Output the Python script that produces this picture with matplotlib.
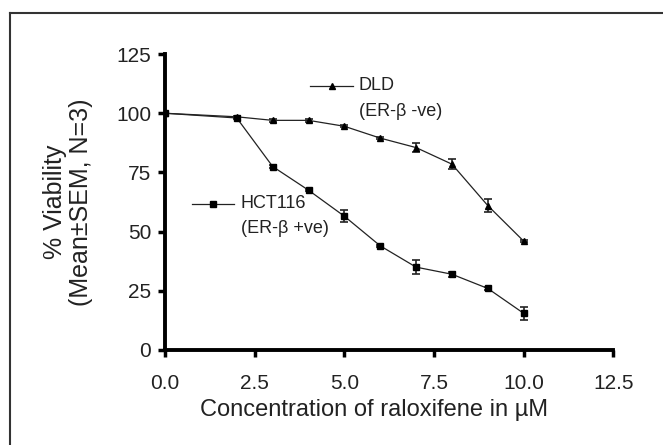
import matplotlib
matplotlib.use("Agg")
import matplotlib.pyplot as plt
from matplotlib.lines import Line2D

# data
conc = [0, 2, 3, 4, 5, 6, 7, 8, 9, 10]
dld_mean = [100, 98.5, 97, 97, 94.5, 89.5, 85.5, 78.5, 61, 46]
dld_sem = [0, 0.5, 0.5, 0.5, 0.5, 0.5, 2, 2, 2.8, 0.5]
hct_mean = [100, 98, 77.5, 67.5, 56.5, 44, 35, 32, 26, 15.5]
hct_sem = [0, 0.5, 0.8, 0.5, 2.5, 0.5, 3, 1, 0.5, 2.8]

xticks = [0.0, 2.5, 5.0, 7.5, 10.0, 12.5]
yticks = [0, 25, 50, 75, 100, 125]

plt.rcParams["font.family"] = ["Liberation Sans", "DejaVu Sans"]
ink = "#222222"

fig = plt.figure(figsize=(6.63, 4.45), dpi=100)
ax = fig.add_axes([0.249, 0.2135, 0.676, 0.665])

ax.errorbar(conc, dld_mean, yerr=dld_sem, color=ink, lw=0.9, marker="^",
            ms=5, mfc="black", mec="black", capsize=3, elinewidth=1.2, capthick=1.2)
ax.errorbar(conc, hct_mean, yerr=hct_sem, color=ink, lw=0.9, marker="s",
            ms=4.5, mfc="black", mec="black", capsize=3, elinewidth=1.2, capthick=1.2)

ax.set_xlim(0, 12.5)
ax.set_ylim(0, 125)
ax.set_xticks(xticks)
ax.set_xticklabels([f"{t:.1f}" for t in xticks])
ax.set_yticks(yticks)
ax.set_yticklabels([str(t) for t in yticks])
for s in ["top", "right"]:
    ax.spines[s].set_visible(False)
for s in ["left", "bottom"]:
    ax.spines[s].set_linewidth(2.8)
ax.tick_params(axis="both", direction="out", length=5, width=2.5, labelsize=15)
ax.tick_params(axis="y", pad=5)
ax.tick_params(axis="x", pad=12)
for lab in ax.get_xticklabels() + ax.get_yticklabels():
    lab.set_color(ink)

# axis titles
fig.text(374 / 663, 1 - 410 / 445, "Concentration of raloxifene in \u00b5M", ha="center",
         va="center", fontsize=17, color=ink)
fig.text(55 / 663, 1 - 202 / 445, "% Viability", rotation=90, ha="center", va="center",
         fontsize=18, color=ink)
fig.text(81 / 663, 1 - 202 / 445, "(Mean\u00b1SEM, N=3)", rotation=90, ha="center", va="center",
         fontsize=18, color=ink)

# inline legend
def key(x0, x1, y, marker, ms):
    fig.add_artist(Line2D([x0, x1], [y, y], color=ink, lw=0.9, transform=fig.transFigure))
    fig.add_artist(Line2D([(x0 + x1) / 2], [y], marker=marker, ms=ms, color="black",
                          transform=fig.transFigure))

key(310 / 663, 353 / 663, 1 - 86 / 445, "^", 5)
fig.text(359 / 663, 1 - 86 / 445, "DLD", fontsize=13, va="center", color=ink)
fig.text(359 / 663, 1 - 111 / 445, "(ER-\u03b2 -ve)", fontsize=13, va="center", color=ink)
key(192 / 663, 234 / 663, 1 - 204 / 445, "s", 4.5)
fig.text(241 / 663, 1 - 204 / 445, "HCT116", fontsize=13, va="center", color=ink)
fig.text(241 / 663, 1 - 229 / 445, "(ER-\u03b2 +ve)", fontsize=13, va="center", color=ink)

# cropped frame around the figure
fig.add_artist(Line2D([9.5 / 663, 1], [1 - 13 / 445, 1 - 13 / 445], color="#333333", lw=1.5,
                      transform=fig.transFigure))
fig.add_artist(Line2D([9.5 / 663, 9.5 / 663], [0, 1 - 13 / 445], color="#333333", lw=1.5,
                      transform=fig.transFigure))

fig.savefig("out.png", dpi=100)
